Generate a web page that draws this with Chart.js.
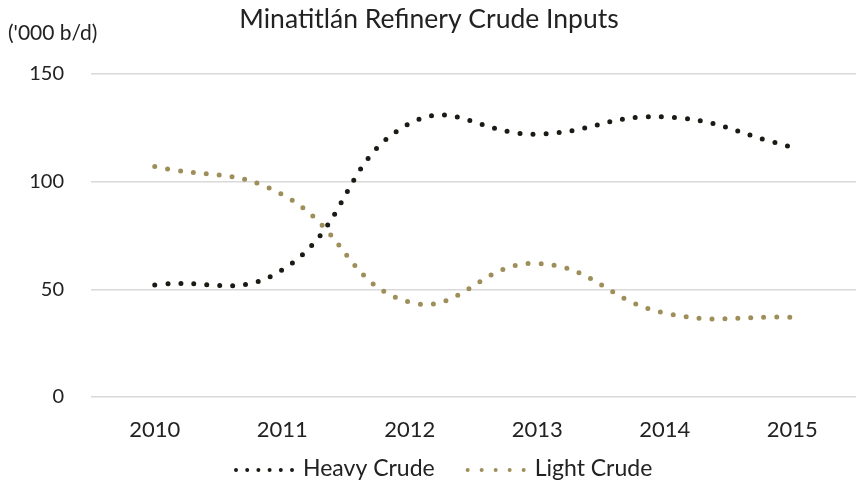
<!DOCTYPE html>
<html>
<head>
<meta charset="utf-8">
<script src="https://cdn.jsdelivr.net/npm/chart.js@4/dist/chart.umd.min.js"></script>
<style>
    html, body { margin: 0; padding: 0; background: #fff; }
    #wrap { width: 856px; height: 486px; }
</style>
</head>
<body>
<div id="wrap"><canvas id="chart" width="856" height="486"></canvas></div>
<script>
const years = ["2010", "2011", "2012", "2013", "2014", "2015"];
const heavyCrude = [52, 59, 127, 122, 130, 116];
const lightCrude = [107, 94, 44, 62, 39, 37];
const yTicks = [0, 50, 100, 150];

const FONT = "Lato, 'Open Sans', sans-serif";
const TEXT = "#222";

// small unit label above the y axis
const unitLabel = {
    id: "unitLabel",
    afterDraw(chart) {
        const ctx = chart.ctx;
        ctx.save();
        ctx.font = "21px " + FONT;
        ctx.fillStyle = TEXT;
        ctx.textBaseline = "middle";
        ctx.fillText("('000 b/d)", 8, 33);
        ctx.restore();
    }
};

// legend drawn by hand: dotted sample + label, Excel style spacing
const dottedLegend = {
    id: "dottedLegend",
    afterDraw(chart, args, opts) {
        const ctx = chart.ctx;
        const y = opts.y;
        let x = opts.x;
        ctx.save();
        ctx.font = "23px " + FONT;
        ctx.textBaseline = "middle";
        chart.data.datasets.forEach((ds, i) => {
            ctx.strokeStyle = ds.borderColor;
            ctx.lineWidth = 4;
            ctx.lineCap = "round";
            ctx.setLineDash([0, opts.dotGap[i]]);
            ctx.beginPath();
            ctx.moveTo(x, y);
            ctx.lineTo(x + opts.sample + 0.5, y); // +0.5 so the last dot is kept
            ctx.stroke();
            ctx.fillStyle = TEXT;
            ctx.fillText(ds.label, x + opts.sample + 11, y - 1);
            x += opts.sample + 11 + ctx.measureText(ds.label).width + 33;
        });
        ctx.restore();
    }
};

new Chart(document.getElementById("chart"), {
    type: "line",
    data: {
        labels: years,
        datasets: [
            {
                label: "Heavy Crude",
                data: heavyCrude,
                borderColor: "#1c1a15",
                backgroundColor: "#1c1a15",
                order: 1
            },
            {
                label: "Light Crude",
                data: lightCrude,
                borderColor: "#9e8f5a",
                backgroundColor: "#9e8f5a",
                order: 0
            }
        ]
    },
    options: {
        responsive: false,
        animation: false,
        layout: { padding: { left: 2, right: 0, top: 0, bottom: 39 } },
        elements: {
            line: {
                borderWidth: 5,
                borderDash: [0, 13],
                borderCapStyle: "round",
                tension: 0.45,
                fill: false
            },
            point: { radius: 0, hoverRadius: 0 }
        },
        scales: {
            x: {
                offset: true,
                afterFit(scale) { scale.height = 50; },
                grid: { display: false },
                border: { display: false },
                ticks: { color: TEXT, font: { family: FONT, size: 22 }, padding: 12 }
            },
            y: {
                min: 0,
                max: 150,
                afterFit(scale) { scale.width = 89; },
                afterBuildTicks(scale) { scale.ticks = yTicks.map(v => ({ value: v })); },
                grid: { color: "#d9d9d9", lineWidth: 1.5, drawTicks: false },
                border: { display: false },
                ticks: { color: TEXT, font: { family: FONT, size: 20 }, padding: 27 }
            }
        },
        plugins: {
            title: {
                display: true,
                text: "Minatitlán Refinery Crude Inputs",
                color: TEXT,
                font: { family: FONT, size: 26.5, weight: "normal" },
                padding: { top: 4, bottom: 38 }
            },
            legend: { display: false },
            tooltip: { enabled: false },
            dottedLegend: { x: 236, y: 470, sample: 56, dotGap: [11.2, 14] }
        }
    },
    plugins: [unitLabel, dottedLegend]
});
</script>
</body>
</html>
